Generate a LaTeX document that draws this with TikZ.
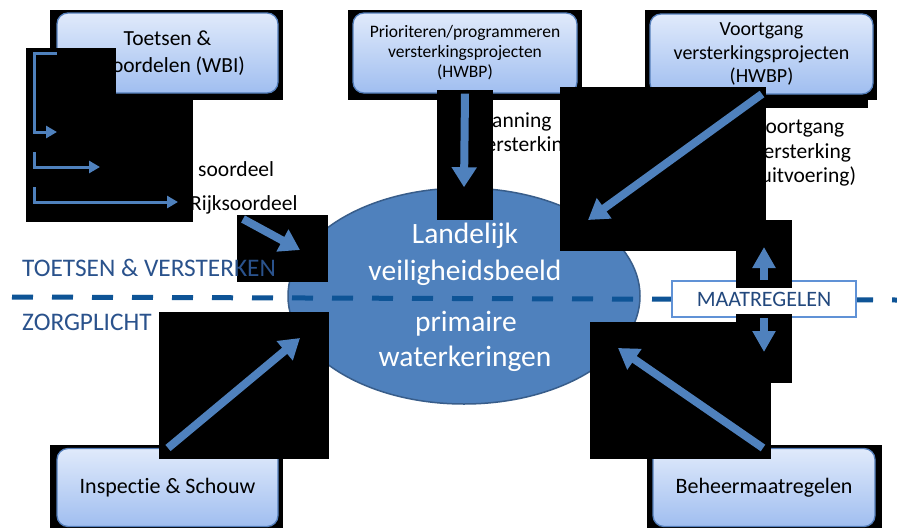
\documentclass[tikz,border=0pt]{standalone}
\usepackage{fontspec}
\setmainfont[Ligatures=NoCommon]{Carlito}
\usetikzlibrary{arrows.meta,shapes.geometric}

\definecolor{flowblue}{RGB}{79,129,189}
\definecolor{ovaledge}{RGB}{56,93,138}
\definecolor{boxedge}{RGB}{84,126,186}
\definecolor{boxtop}{RGB}{224,234,251}
\definecolor{boxbottom}{RGB}{160,190,240}
\definecolor{dividerblue}{RGB}{14,84,150}
\definecolor{zonetext}{RGB}{42,82,140}
\definecolor{measureedge}{RGB}{96,146,214}
\definecolor{measuretext}{RGB}{34,72,125}

\tikzset{
  panel/.style={draw=boxedge, line width=1.3pt, rounded corners=11pt,
    top color=boxtop, bottom color=boxbottom, inner sep=0pt, align=center, text=black},
  blackout/.style={fill=black},
  flowarrow/.style={draw=flowblue, line width=8pt, -{Triangle[width=24pt,length=20pt]}},
  smallflow/.style={draw=flowblue, line width=7.5pt, -{Triangle[width=22pt,length=21pt]}},
  bracketarrow/.style={draw=flowblue, line width=3pt, -{Triangle[width=12pt,length=11pt]}},
  plainlabel/.style={anchor=base west, inner sep=0pt, text=black, font=\fontsize{21.5}{24}\selectfont},
  ovaltext/.style={anchor=base, inner sep=0pt, text=white, font=\fontsize{29.5}{36}\selectfont},
  zonelabel/.style={anchor=base west, inner sep=0pt, text=zonetext, font=\fontsize{25.3}{29}\selectfont},
  divider/.style={draw=dividerblue, line width=5pt, dash pattern=on 21pt off 19pt}
}

\begin{document}
\begin{tikzpicture}[x=1pt,y=-1pt]
\useasboundingbox (0,0) rectangle (897,528);
\fill[white] (0,0) rectangle (897,528);

% dark backdrops behind the five process boxes
\fill[blackout] (50,10) rectangle (283,100);
\fill[blackout] (348,10) rectangle (582,100);
\fill[blackout] (645,10) rectangle (877,100);
\fill[blackout] (760,100) rectangle (868,108);
\fill[blackout] (50,445) rectangle (283,528);
\fill[blackout] (647,445) rectangle (882,528);

% process boxes
\node[panel, minimum width=221pt, minimum height=80pt, font=\fontsize{21.5}{27}\selectfont]
  (wbi) at (167.5,53) {Toetsen \&\\beoordelen (WBI)};
\node[panel, minimum width=224pt, minimum height=80pt, font=\fontsize{17.5}{20}\selectfont]
  (prio) at (465,53) {Prioriteren/programmeren\\versterkingsprojecten\\(HWBP)};
\node[panel, minimum width=223pt, minimum height=80pt, font=\fontsize{20}{23.5}\selectfont]
  (voort) at (761.5,54) {Voortgang\\versterkingsprojecten\\(HWBP)};
\node[panel, minimum width=221pt, minimum height=78pt, font=\fontsize{22}{26}\selectfont]
  (insp) at (167.5,487.5) {Inspectie \& Schouw};
\node[panel, minimum width=222pt, minimum height=78pt, font=\fontsize{22}{26}\selectfont]
  (beheer) at (764,487.5) {Beheermaatregelen};

% free-standing labels
\node[plainlabel] (lbA) at (198,176) {soordeel};
\node[plainlabel] (lbB) at (190,210) {Rijksoordeel};
\node[plainlabel] (plA) at (476,127) {Planning};
\node[plainlabel] (plB) at (476,151) {versterking};
\node[plainlabel] (vgA) at (754,133) {Voortgang};
\node[plainlabel] (vgB) at (754,158) {versterking};
\node[plainlabel] (vgC) at (754,182) {(uitvoering)};

% central oval
\node[ellipse, draw=ovaledge, line width=1.5pt, fill=flowblue,
  minimum width=352pt, minimum height=216pt, inner sep=0pt] (lvb) at (464,296) {};
\node[ovaltext] (ovA) at (465,243) {Landelijk};
\node[ovaltext] (ovB) at (465,280) {veiligheidsbeeld};
\node[ovaltext] (ovC) at (466,331) {primaire};
\node[ovaltext] (ovD) at (465,366) {waterkeringen};

% zone divider
\coordinate (divL) at (12,297);
\coordinate (divR) at (897,300);
\draw[divider] (divL) -- (divR);
\node[draw=measureedge, line width=2pt, fill=white, minimum width=184pt, minimum height=36pt,
  inner sep=0pt, text=measuretext, font=\fontsize{22}{26}\selectfont] (maat) at (764,299) {MAATREGELEN};

% dark patches around the connectors
\fill[blackout] (26,48) rectangle (116,100);
\fill[blackout] (26,100) rectangle (193,222);
\fill[blackout] (237,215) rectangle (328,282);
\fill[blackout] (159,312) rectangle (329,459);
\fill[blackout] (590,322) rectangle (771,459);
\fill[blackout] (437,90) rectangle (493,220);
\fill[blackout] (560,87) rectangle (766,251);
\fill[blackout] (736,220) rectangle (792,288);
\fill[blackout] (736,314) rectangle (792,383);

% zone labels
\node[zonelabel] (zoneTop) at (22,276) {TOETSEN \& VERSTERKEN};
\node[zonelabel] (zoneBot) at (22,330) {ZORGPLICHT};

% connector end points
\coordinate (rkS) at (243,219);
\coordinate (rkE) at (300,250);
\coordinate (vgS) at (762,94);
\coordinate (vgE) at (588,220);
\coordinate (isS) at (168,448);
\coordinate (isE) at (300,338);
\coordinate (bhS) at (763,448);
\coordinate (bhE) at (618,348);
\coordinate (upE) at (764,247);
\coordinate (dnE) at (764,352);

% connectors into the oval
\draw[flowarrow] (prio.south) -- (lvb.north);
\draw[flowarrow] (vgS) -- (vgE);
\draw[flowarrow] (rkS) -- (rkE);
\draw[flowarrow] (isS) -- (isE);
\draw[flowarrow] (bhS) -- (bhE);
\draw[smallflow] (maat.north) -- (upE);
\draw[smallflow] (maat.south) -- (dnE);

% bracket of assessment outcomes
\coordinate (brTop) at (57,53);
\coordinate (brA) at (34,53);
\coordinate (brB) at (57,132);
\coordinate (brC) at (34,152);
\coordinate (brD) at (100,167);
\coordinate (brE) at (34,187);
\coordinate (brF) at (178,202);
\draw[bracketarrow] (brTop) -- (brA) |- (brB);
\draw[bracketarrow] (brC) |- (brD);
\draw[bracketarrow] (brE) |- (brF);
\end{tikzpicture}
\end{document}
